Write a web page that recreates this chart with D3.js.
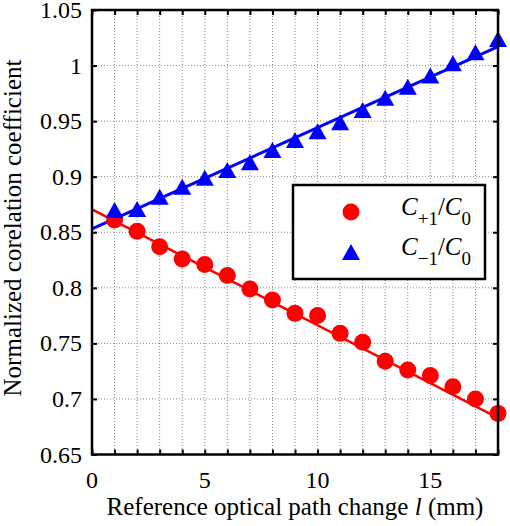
<!DOCTYPE html>
<html>
<head>
<meta charset="utf-8">
<script src="https://cdn.jsdelivr.net/npm/d3@7"></script>
<style>
  html, body { margin: 0; padding: 0; background: #fff; }
  svg { display: block; }
  text { font-family: "Liberation Serif", "Times New Roman", serif; fill: #000; }
</style>
</head>
<body>
<svg id="chart" width="510" height="526"></svg>
<script>
// ---- data ----
const lValues = [1,2,3,4,5,6,7,8,9,10,11,12,13,14,15,16,17,18];
const cPlus  = [0.861,0.851,0.837,0.826,0.821,0.811,0.799,0.789,0.777,0.775,0.759,0.751,0.734,0.726,0.721,0.711,0.700,0.687];
const cMinus = [0.870,0.871,0.882,0.891,0.899,0.906,0.913,0.924,0.933,0.941,0.949,0.960,0.971,0.981,0.991,1.002,1.012,1.024];
const fitX = [0, 18];
const fitPlus = [0.8705, 0.683];
const fitMinus = [0.853, 1.017];
const xTicks = [0,1,2,3,4,5,6,7,8,9,10,11,12,13,14,15,16,17,18];
const xTickLabels = [0,5,10,15];
const yTicks = [0.65,0.7,0.75,0.8,0.85,0.9,0.95,1,1.05];
const yTickLabels = ["0.65","0.7","0.75","0.8","0.85","0.9","0.95","1","1.05"];

const svg = d3.select("#chart");
const L = 92, R = 498, T = 10, B = 454.5;
const x = d3.scaleLinear().domain([0,18]).range([L,R]);
const y = d3.scaleLinear().domain([0.65,1.05]).range([B,T]);

const FS_TICK = 24;
const FS_LAB = 25;

// grid
const grid = svg.append("g");
grid.selectAll("line.gx").data(xTicks.filter(d => d > 0 && d < 18)).join("line")
  .attr("x1", d => x(d)).attr("x2", d => x(d)).attr("y1", T).attr("y2", B)
  .attr("stroke", "#888").attr("stroke-width", 1).attr("stroke-dasharray", "1,2");
grid.selectAll("line.gy").data(yTicks.filter(d => d > 0.651 && d < 1.049)).join("line")
  .attr("y1", d => y(d)).attr("y2", d => y(d)).attr("x1", L).attr("x2", R)
  .attr("stroke", "#888").attr("stroke-width", 1).attr("stroke-dasharray", "1,2");

// axes with inward ticks
const tickLen = 5;
const gAx = svg.append("g");
gAx.append("g").attr("transform", `translate(0,${B})`)
  .call(d3.axisBottom(x).tickValues(xTicks).tickSizeInner(-tickLen).tickSizeOuter(0).tickFormat(""));
gAx.append("g").attr("transform", `translate(0,${T})`)
  .call(d3.axisTop(x).tickValues(xTicks).tickSizeInner(-tickLen).tickSizeOuter(0).tickFormat(""));
gAx.append("g").attr("transform", `translate(${L},0)`)
  .call(d3.axisLeft(y).tickValues(yTicks).tickSizeInner(-tickLen).tickSizeOuter(0).tickFormat(""));
gAx.append("g").attr("transform", `translate(${R},0)`)
  .call(d3.axisRight(y).tickValues(yTicks).tickSizeInner(-tickLen).tickSizeOuter(0).tickFormat(""));
gAx.selectAll(".domain").remove();
gAx.selectAll(".tick line").attr("stroke", "#000").attr("stroke-width", 2);

// tick labels
svg.append("g").selectAll("text").data(xTickLabels).join("text")
  .attr("x", d => x(d)).attr("y", 488).attr("text-anchor", "middle")
  .attr("font-size", FS_TICK).text(d => d);
svg.append("g").selectAll("text").data(yTicks).join("text")
  .attr("x", 82).attr("y", d => y(d) + 8).attr("text-anchor", "end")
  .attr("font-size", FS_TICK).text((d,i) => yTickLabels[i]);

// axis labels
const xl = svg.append("text").attr("x", (L+R)/2).attr("y", 515).attr("text-anchor", "middle").attr("font-size", FS_LAB);
xl.append("tspan").text("Reference optical path change ");
xl.append("tspan").attr("font-style", "italic").text("l");
xl.append("tspan").text(" (mm)");
svg.append("text").attr("transform", "translate(21,228) rotate(-90)")
  .attr("text-anchor", "middle").attr("font-size", FS_LAB).text("Normalized corelation coefficient");

// fit lines
const line = d3.line().x(d => x(d[0])).y(d => y(d[1]));
svg.append("path").datum(fitX.map((v,i) => [v, fitPlus[i]])).attr("d", line)
  .attr("stroke", "#ff0000").attr("stroke-width", 2.5).attr("fill", "none");
svg.append("path").datum(fitX.map((v,i) => [v, fitMinus[i]])).attr("d", line)
  .attr("stroke", "#0000ff").attr("stroke-width", 3).attr("fill", "none");

// markers
svg.append("g").selectAll("circle").data(lValues).join("circle")
  .attr("cx", d => x(d)).attr("cy", (d,i) => y(cPlus[i])).attr("r", 8.5).attr("fill", "#ff0000");
const triPath = (cx, cy) => {
  const w = 18, h = 16;
  return `M${cx},${cy-h/2}L${cx+w/2},${cy+h/2}L${cx-w/2},${cy+h/2}Z`;
};
svg.append("g").selectAll("path").data(lValues).join("path")
  .attr("d", (d,i) => triPath(x(d), y(cMinus[i]))).attr("fill", "#0000ff");

// frame
svg.append("rect").attr("x", L).attr("y", T).attr("width", R-L).attr("height", B-T)
  .attr("fill", "none").attr("stroke", "#000").attr("stroke-width", 2.5);

// legend
const lg = svg.append("g");
lg.append("rect").attr("x", 293).attr("y", 185).attr("width", 192).attr("height", 94)
  .attr("fill", "#fff").attr("stroke", "#000").attr("stroke-width", 2.5);
lg.append("circle").attr("cx", 351).attr("cy", 212).attr("r", 8.5).attr("fill", "#ff0000");
lg.append("path").attr("d", triPath(351, 252)).attr("fill", "#0000ff");
const legendItems = [["+1", 215], ["\u22121", 255]];
legendItems.forEach(([sub, yy]) => {
  const t = lg.append("text").attr("x", 401).attr("y", yy).attr("font-size", 25);
  t.append("tspan").attr("font-style", "italic").text("C");
  t.append("tspan").attr("dy", 10).attr("font-size", 19).text(sub);
  t.append("tspan").attr("dy", -10).text("/");
  t.append("tspan").attr("font-style", "italic").text("C");
  t.append("tspan").attr("dy", 10).attr("font-size", 19).text("0");
});
</script>
</body>
</html>
